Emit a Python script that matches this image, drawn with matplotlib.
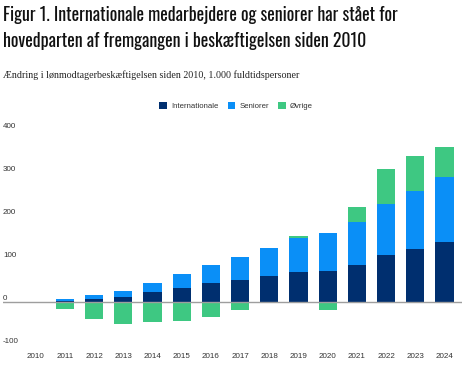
import matplotlib
matplotlib.use("Agg")
import matplotlib.pyplot as plt
from matplotlib import font_manager
from matplotlib.patches import Patch

years = [str(y) for y in range(2010, 2025)]
internationale = [0, 3, 8, 13, 24, 34, 46, 53, 62, 71, 74, 87, 110, 124, 140]
seniorer = [0, 4, 8, 14, 22, 31, 42, 53, 65, 80, 87, 101, 119, 135, 153]
oevrige = [0, -15, -38, -51, -46, -43, -34, -19, -1, 3, -18, 35, 82, 82, 68]
yticks = [-100, 0, 100, 200, 300, 400]

title_lines = ["Figur 1. Internationale medarbejdere og seniorer har stået for",
               "hovedparten af fremgangen i beskæftigelsen siden 2010"]
subtitle = "Ændring i lønmodtagerbeskæftigelsen siden 2010, 1.000 fuldtidspersoner"
series_names = ["Internationale", "Seniorer", "Øvrige"]
colors = ["#002f6f", "#0a8ff7", "#3ec882"]

names = {f.name for f in font_manager.fontManager.ttflist}

def pick(cands, default):
    for c in cands:
        if c in names:
            return c
    return default

title_font = pick(["Oswald", "Fjalla One", "Roboto Condensed", "Barlow Condensed",
                   "Archivo Narrow", "Asap Condensed", "Liberation Sans Narrow"], "DejaVu Sans")
serif_font = pick(["Liberation Serif", "Tinos", "Times New Roman"], "DejaVu Serif")
sans_font = pick(["Liberation Sans", "Arimo", "Arial"], "DejaVu Sans")

W, H = 468, 367
fig = plt.figure(figsize=(W / 100, H / 100), dpi=100)
fig.patch.set_facecolor("white")

# axes placement in pixels
x0_px, x1_px = 3, 462
zero_px, scale = 302.3, 0.429
ymin, ymax = -110, 410
bot_px = zero_px - ymin * scale
top_px = zero_px - ymax * scale
ax = fig.add_axes([x0_px / W, 1 - bot_px / H, (x1_px - x0_px) / W, (bot_px - top_px) / H])
ax.set_xlim(-1.12, 14.6)
ax.set_ylim(ymin, ymax)
for s in ax.spines.values():
    s.set_visible(False)

x = list(range(len(years)))
pos_base = [0] * len(years)
neg_base = [0] * len(years)
bw = 0.62
for vals, col in zip([internationale, seniorer, oevrige], colors):
    bottoms = []
    for i, v in enumerate(vals):
        if v >= 0:
            bottoms.append(pos_base[i])
            pos_base[i] += v
        else:
            bottoms.append(neg_base[i])
            neg_base[i] += v
    ax.bar(x, vals, bottom=bottoms, width=bw, color=col, linewidth=0, zorder=2)

ax.axhline(0, color="#9e9e9e", lw=1.0, zorder=3)

ax.set_xticks(x)
ax.set_xticklabels(years, fontsize=5.8, color="#333333", family=sans_font)
ax.tick_params(axis="x", length=0, pad=2.5)
ax.set_yticks([])
for t in yticks:
    ax.text(0.0, t + 9.5, str(t), transform=ax.get_yaxis_transform(), ha="left", va="center",
            fontsize=5.8, color="#333333", family=sans_font)

handles = [Patch(facecolor=c, edgecolor="none") for c in colors]
leg = fig.legend(handles, series_names, loc="center", bbox_to_anchor=(236 / W, 1 - 106 / H),
                 ncol=3, frameon=False, handlelength=1.0, handleheight=1.0, handletextpad=0.5,
                 columnspacing=1.2, prop={"family": sans_font, "size": 5.6})
for t in leg.get_texts():
    t.set_color("#333333")

# Title and subtitle, fitted to reference widths
renderer = fig.canvas.get_renderer()

def fitted_text(s, xpx, ypx, target_w, family, weight, size0, color):
    t = fig.text(xpx / W, 1 - ypx / H, s, ha="left", va="center", fontsize=size0,
                 family=family, weight=weight, color=color)
    w = t.get_window_extent(renderer).width
    t.set_fontsize(size0 * target_w / w)
    return t

t1 = fitted_text(title_lines[0], 3, 15.5, 395, title_font, "bold", 12, "#111111")
fs = t1.get_fontsize()
fig.text(3 / W, 1 - 40.5 / H, title_lines[1], ha="left", va="center", fontsize=fs,
         family=title_font, weight="bold", color="#111111")
fitted_text(subtitle, 3, 75.5, 298, serif_font, "normal", 7, "#222222")

fig.savefig("out.png", dpi=100, facecolor="white")
